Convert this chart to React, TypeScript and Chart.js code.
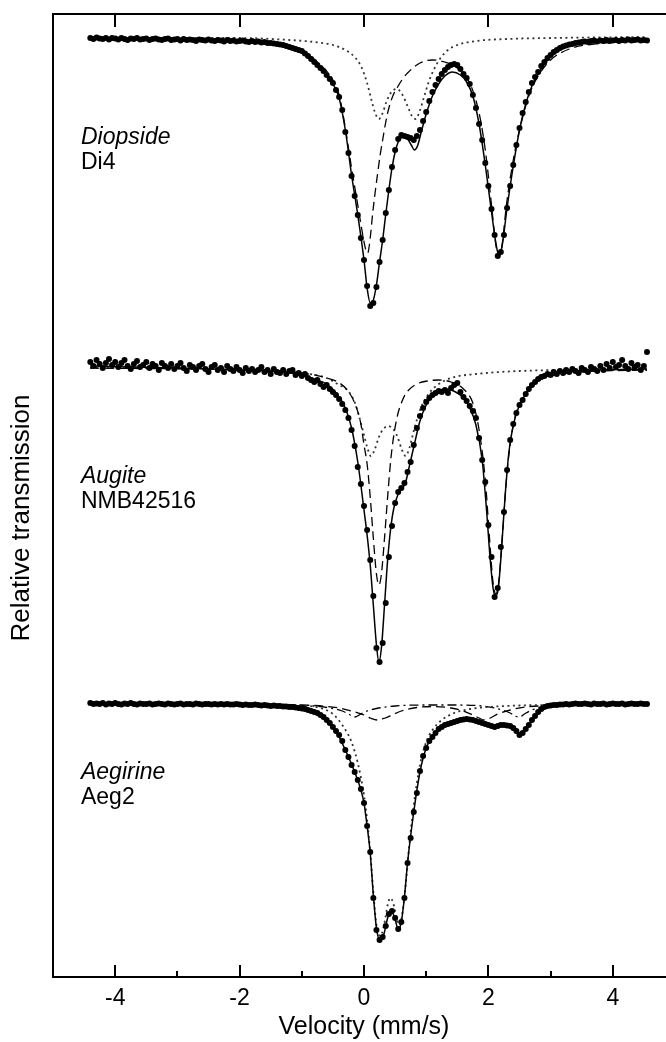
import { useEffect, useRef } from "react";
import { Chart, registerables } from "chart.js";

Chart.register(...registerables);

const FONT = '"Liberation Sans", Arial, Helvetica, sans-serif';

// Velocity channels (mm/s)
const VELOCITY = [
  -4.40, -4.35, -4.30, -4.25, -4.20, -4.15, -4.10, -4.05, -4.00, -3.95,
  -3.90, -3.85, -3.80, -3.75, -3.70, -3.65, -3.60, -3.55, -3.50, -3.45,
  -3.40, -3.35, -3.30, -3.25, -3.20, -3.15, -3.10, -3.05, -3.00, -2.95,
  -2.90, -2.85, -2.80, -2.75, -2.70, -2.65, -2.60, -2.55, -2.50, -2.45,
  -2.40, -2.35, -2.30, -2.25, -2.20, -2.15, -2.10, -2.05, -2.00, -1.95,
  -1.90, -1.85, -1.80, -1.75, -1.70, -1.65, -1.60, -1.55, -1.50, -1.45,
  -1.40, -1.35, -1.30, -1.25, -1.20, -1.15, -1.10, -1.05, -1.00, -0.95,
  -0.90, -0.85, -0.80, -0.75, -0.70, -0.65, -0.60, -0.55, -0.50, -0.45,
  -0.40, -0.35, -0.30, -0.25, -0.20, -0.15, -0.10, -0.05, 0.00, 0.05,
  0.10, 0.15, 0.20, 0.25, 0.30, 0.35, 0.40, 0.45, 0.50, 0.55,
  0.60, 0.65, 0.70, 0.75, 0.80, 0.85, 0.90, 0.95, 1.00, 1.05,
  1.10, 1.15, 1.20, 1.25, 1.30, 1.35, 1.40, 1.45, 1.50, 1.55,
  1.60, 1.65, 1.70, 1.75, 1.80, 1.85, 1.90, 1.95, 2.00, 2.05,
  2.10, 2.15, 2.20, 2.25, 2.30, 2.35, 2.40, 2.45, 2.50, 2.55,
  2.60, 2.65, 2.70, 2.75, 2.80, 2.85, 2.90, 2.95, 3.00, 3.05,
  3.10, 3.15, 3.20, 3.25, 3.30, 3.35, 3.40, 3.45, 3.50, 3.55,
  3.60, 3.65, 3.70, 3.75, 3.80, 3.85, 3.90, 3.95, 4.00, 4.05,
  4.10, 4.15, 4.20, 4.25, 4.30, 4.35, 4.40, 4.45, 4.50, 4.55,
];

// Measured spectra (offset relative transmission, arbitrary units)
const DIOPSIDE_DATA = [
  96.2, 96.1, 96.25, 96.15, 96.1, 96.2, 96.05, 96.2, 96.15, 96.05,
  96.2, 96.1, 96.0, 96.15, 96.1, 96.2, 96.05, 96.1, 96.15, 96.0,
  96.1, 96.15, 96.05, 96.0, 96.1, 96.15, 96.0, 96.05, 96.1, 95.95,
  96.1, 96.0, 96.05, 96.0, 95.9, 96.05, 96.0, 95.95, 96.05, 95.95,
  95.9, 96.0, 95.95, 95.85, 96.0, 95.9, 95.95, 95.85, 95.9, 95.95,
  95.85, 95.8, 95.9, 95.8, 95.85, 95.75, 95.8, 95.7, 95.7, 95.65,
  95.6, 95.55, 95.5, 95.4, 95.3, 95.2, 95.1, 95.0, 94.9, 94.65,
  94.4, 94.1, 93.8, 93.5, 93.2, 92.9, 92.5, 92.1, 91.7, 91.0,
  90.3, 89.0, 86.8, 84.7, 82.4, 80.4, 78.5, 76.2, 74.0, 71.4,
  69.4, 69.7, 71.3, 73.8, 76.0, 78.7, 81.0, 83.3, 85.0, 86.1,
  86.5, 86.4, 86.3, 86.2, 86.0, 86.4, 87.0, 87.9, 88.8, 89.9,
  90.8, 91.5, 92.1, 92.6, 93.0, 93.3, 93.5, 93.6, 93.5, 93.1,
  92.6, 92.2, 91.6, 90.5, 89.2, 87.6, 86.0, 83.7, 81.4, 79.1,
  76.5, 74.4, 74.8, 76.5, 79.2, 81.4, 83.5, 85.5, 87.2, 88.7,
  89.8, 90.8, 91.7, 92.3, 92.8, 93.4, 93.8, 94.2, 94.5, 94.8,
  95.0, 95.2, 95.35, 95.45, 95.55, 95.6, 95.7, 95.75, 95.8, 95.85,
  95.8, 95.9, 95.95, 95.85, 95.95, 95.9, 96.0, 95.9, 95.95, 96.0,
  95.9, 96.0, 95.95, 96.05, 95.95, 96.0, 96.05, 95.95, 96.0, 95.95,
];

const AUGITE_DATA = [
  63.8, 63.4, 64.0, 63.6, 63.2, 63.7, 64.1, 63.5, 63.8, 63.3,
  63.7, 64.0, 63.4, 63.1, 63.6, 63.9, 63.3, 63.5, 63.8, 63.2,
  63.6, 63.4, 63.0, 63.7, 63.4, 63.2, 63.6, 63.1, 63.4, 63.7,
  63.2, 62.9, 63.5, 63.3, 63.0, 63.4, 63.6, 63.1, 62.8, 63.3,
  63.5, 63.0, 63.2, 62.8, 63.4, 63.1, 62.9, 63.3, 63.0, 62.7,
  63.2, 62.9, 63.1, 62.8, 63.0, 63.3, 62.8, 63.0, 62.6, 63.1,
  62.8, 62.7, 63.0, 62.6, 62.9, 63.0, 62.5, 62.7, 62.4, 62.6,
  62.2, 62.0, 61.8, 62.0, 61.6, 61.3, 61.5, 61.1, 60.8, 60.5,
  60.1, 59.6, 59.0, 58.2, 57.0, 55.4, 53.3, 51.6, 49.4, 47.0,
  44.0, 40.4, 35.2, 33.8, 35.7, 39.7, 44.3, 47.4, 49.7, 50.8,
  51.2, 51.7, 52.8, 53.8, 55.5, 57.2, 58.4, 59.2, 59.8, 60.2,
  60.5, 60.7, 60.9, 60.8, 61.0, 60.7, 61.2, 61.5, 61.7, 60.8,
  60.3, 59.9, 59.4, 58.9, 58.2, 56.2, 54.0, 51.8, 47.5, 44.3,
  40.3, 41.2, 45.3, 48.8, 53.0, 56.0, 57.6, 58.7, 59.5, 60.0,
  60.6, 61.1, 61.5, 61.8, 62.1, 62.3, 62.4, 62.6, 62.5, 62.8,
  62.6, 62.9, 62.7, 63.0, 62.8, 63.1, 62.9, 62.7, 63.2, 63.0,
  62.8, 63.3, 63.1, 62.9, 63.4, 63.0, 63.6, 63.2, 63.8, 63.3,
  63.5, 64.0, 63.4, 63.1, 63.7, 63.3, 63.5, 63.0, 63.4, 64.8,
];

const AEGIRINE_DATA = [
  29.7, 29.6, 29.65, 29.6, 29.7, 29.55, 29.65, 29.6, 29.7, 29.6,
  29.55, 29.65, 29.6, 29.7, 29.6, 29.55, 29.65, 29.6, 29.6, 29.65,
  29.55, 29.6, 29.65, 29.6, 29.55, 29.65, 29.6, 29.55, 29.6, 29.65,
  29.55, 29.6, 29.6, 29.55, 29.65, 29.6, 29.55, 29.6, 29.6, 29.55,
  29.6, 29.55, 29.6, 29.55, 29.6, 29.55, 29.55, 29.6, 29.55, 29.5,
  29.55, 29.5, 29.5, 29.55, 29.5, 29.45, 29.5, 29.45, 29.4, 29.45,
  29.4, 29.4, 29.35, 29.35, 29.3, 29.3, 29.25, 29.2, 29.15, 29.1,
  29.0, 28.9, 28.8, 28.7, 28.5, 28.3, 28.0, 27.7, 27.3, 26.9,
  26.5, 25.9, 25.0, 24.3, 23.5, 22.8, 22.0, 21.1, 19.7, 17.4,
  14.8, 10.2, 7.0, 6.0, 6.3, 7.4, 8.6, 8.9, 8.2, 7.1,
  7.8, 10.2, 13.7, 16.2, 18.8, 20.7, 22.9, 24.4, 25.2, 25.9,
  26.3, 26.7, 27.1, 27.3, 27.5, 27.6, 27.7, 27.8, 27.9, 28.0,
  28.05, 28.1, 28.05, 28.0, 27.9, 27.8, 27.7, 27.6, 27.5, 27.4,
  27.3, 27.4, 27.5, 27.5, 27.45, 27.4, 27.2, 26.9, 26.5, 26.7,
  27.1, 27.5, 28.0, 28.4, 28.8, 29.1, 29.3, 29.4, 29.45, 29.5,
  29.5, 29.55, 29.55, 29.6, 29.55, 29.6, 29.65, 29.6, 29.6, 29.65,
  29.6, 29.55, 29.65, 29.6, 29.6, 29.65, 29.55, 29.6, 29.65, 29.6,
  29.6, 29.65, 29.55, 29.6, 29.65, 29.6, 29.6, 29.65, 29.6, 29.6,
];

// Fitted curves: [velocity, value]
const DIOPSIDE_FIT = [
  [-4.4, 96.1], [-3, 96.05], [-2, 95.9], [-1.5, 95.7], [-1.2, 95.4], [-1.0, 95.0],
  [-0.8, 94.0], [-0.6, 92.5], [-0.5, 91.6], [-0.4, 90.2], [-0.3, 87.0], [-0.2, 82.5],
  [-0.1, 78.5], [0.0, 74.0], [0.05, 71.2], [0.1, 69.7], [0.15, 70.0], [0.2, 71.5],
  [0.25, 73.8], [0.3, 76.0], [0.35, 78.6], [0.4, 81.0], [0.45, 83.2], [0.5, 84.8],
  [0.55, 85.8], [0.6, 86.2], [0.65, 86.3], [0.7, 86.1], [0.76, 85.5], [0.81, 85.0],
  [0.86, 85.4], [0.92, 86.8], [1.0, 88.6], [1.1, 90.4], [1.2, 91.6], [1.3, 92.4],
  [1.42, 92.8], [1.55, 92.5], [1.65, 91.8], [1.75, 90.4], [1.85, 87.6], [1.95, 83.5],
  [2.05, 78.8], [2.12, 75.7], [2.17, 74.4], [2.22, 75.4], [2.3, 79.2], [2.4, 83.4],
  [2.5, 87.0], [2.6, 89.6], [2.7, 91.4], [2.8, 92.6], [2.9, 93.6], [3.0, 94.3],
  [3.15, 95.0], [3.3, 95.4], [3.5, 95.7], [4.0, 95.9], [4.55, 96.0],
];
const DIOPSIDE_SITE_A = [
  [-4.4, 96.1], [-2.5, 96.0], [-1.5, 95.7], [-1.0, 95.0], [-0.75, 93.8], [-0.5, 92.0],
  [-0.4, 90.5], [-0.3, 87.2], [-0.2, 83.2], [-0.1, 79.5], [-0.02, 76.5], [0.03, 75.0],
  [0.06, 74.7], [0.1, 76.2], [0.14, 78.7], [0.18, 80.8], [0.22, 82.7], [0.26, 84.5],
  [0.3, 86.0], [0.35, 87.8], [0.4, 89.2], [0.47, 90.5], [0.54, 91.3], [0.62, 92.1],
  [0.7, 92.7], [0.9, 93.7], [1.1, 94.0], [1.3, 93.8], [1.5, 93.2], [1.7, 91.7],
  [1.85, 88.7], [1.95, 85.0], [2.05, 79.5], [2.12, 75.5], [2.17, 74.3], [2.22, 75.5],
  [2.29, 79.5], [2.4, 84.0], [2.5, 87.0], [2.65, 90.4], [2.8, 92.4], [3.0, 94.0],
  [3.3, 95.1], [3.7, 95.6], [4.2, 95.8], [4.55, 95.9],
];
const DIOPSIDE_SITE_B = [
  [-4.4, 96.2], [-2, 96.2], [-1.2, 96.0], [-0.8, 95.8], [-0.5, 95.5], [-0.3, 95.0],
  [-0.15, 94.3], [-0.05, 93.4], [0.05, 91.7], [0.12, 90.0], [0.18, 88.7], [0.24, 88.1],
  [0.3, 88.7], [0.36, 89.8], [0.44, 90.8], [0.53, 91.1], [0.62, 90.5], [0.7, 89.4],
  [0.77, 88.4], [0.83, 88.1], [0.89, 88.8], [0.96, 90.2], [1.04, 91.8], [1.12, 93.0],
  [1.22, 94.1], [1.35, 95.0], [1.5, 95.5], [1.8, 95.9], [2.3, 96.1], [3, 96.2],
  [4.55, 96.3],
];

const AUGITE_FIT = [
  [-4.4, 63.4], [-3, 63.2], [-2, 63.0], [-1.5, 62.9], [-1.0, 62.5], [-0.8, 62.1],
  [-0.6, 61.6], [-0.45, 60.7], [-0.3, 59.2], [-0.2, 57.2], [-0.1, 53.8], [-0.05, 51.5],
  [0.0, 49.0], [0.05, 46.5], [0.1, 43.5], [0.15, 39.5], [0.2, 35.5], [0.24, 33.8],
  [0.28, 35.2], [0.33, 39.5], [0.38, 44.0], [0.43, 47.2], [0.48, 49.2], [0.55, 50.6],
  [0.62, 51.2], [0.67, 51.8], [0.73, 53.4], [0.8, 55.3], [0.9, 57.9], [1.0, 59.5],
  [1.1, 60.4], [1.2, 60.9], [1.3, 61.1], [1.4, 61.0], [1.5, 60.7], [1.6, 60.2],
  [1.7, 59.2], [1.8, 57.5], [1.9, 54.0], [1.97, 49.0], [2.03, 44.0], [2.08, 41.0],
  [2.12, 40.4], [2.16, 41.2], [2.21, 45.0], [2.27, 50.5], [2.33, 54.8], [2.4, 57.5],
  [2.5, 59.5], [2.6, 60.6], [2.7, 61.4], [2.8, 62.0], [3.0, 62.5], [3.3, 62.8],
  [3.8, 63.0], [4.55, 63.1],
];
const AUGITE_SITE_A = [
  [-4.4, 63.2], [-2.0, 63.0], [-1.0, 62.7], [-0.6, 62.2], [-0.42, 61.8], [-0.27, 61.0],
  [-0.15, 59.7], [-0.05, 57.6], [0.0, 55.5], [0.05, 53.6], [0.1, 50.3], [0.15, 46.2],
  [0.2, 42.6], [0.24, 41.5], [0.28, 42.6], [0.33, 46.2], [0.38, 50.3], [0.43, 54.0],
  [0.48, 56.5], [0.54, 58.5], [0.62, 60.0], [0.69, 60.8], [0.85, 61.6], [1.02, 61.9],
  [1.2, 62.0], [1.4, 61.8], [1.6, 61.1], [1.75, 59.7], [1.85, 57.0], [1.95, 52.0],
  [2.02, 46.0], [2.07, 42.0], [2.12, 40.6], [2.17, 42.0], [2.22, 46.0], [2.3, 52.8],
  [2.4, 57.5], [2.5, 59.6], [2.65, 61.0], [2.8, 61.9], [3.0, 62.4], [3.3, 62.7],
  [3.8, 62.9], [4.55, 63.0],
];
const AUGITE_SITE_B = [
  [-4.4, 63.2], [-2.0, 63.1], [-1.0, 62.7], [-0.6, 62.2], [-0.4, 61.5], [-0.27, 61.0],
  [-0.15, 59.8], [-0.05, 57.7], [0.0, 56.5], [0.05, 55.3], [0.11, 54.4], [0.17, 55.0],
  [0.24, 56.3], [0.3, 57.0], [0.39, 57.4], [0.48, 57.0], [0.54, 56.3], [0.61, 55.0],
  [0.67, 54.4], [0.73, 55.2], [0.78, 56.4], [0.83, 57.6], [0.92, 59.3], [1.05, 60.7],
  [1.18, 61.5], [1.4, 62.2], [1.8, 62.6], [2.5, 62.9], [3.5, 63.0], [4.55, 63.0],
];

const AEGIRINE_FIT = [
  [-4.4, 29.6], [-2, 29.55], [-1.5, 29.4], [-1.2, 29.3], [-1.0, 29.15], [-0.8, 28.8],
  [-0.6, 28.0], [-0.45, 26.9], [-0.3, 25.0], [-0.15, 22.8], [-0.05, 21.0], [0.0, 19.7],
  [0.05, 17.4], [0.1, 14.7], [0.15, 10.5], [0.2, 7.2], [0.26, 5.9], [0.32, 6.6],
  [0.38, 8.2], [0.43, 8.9], [0.49, 8.3], [0.55, 7.1], [0.6, 7.8], [0.65, 10.3],
  [0.7, 13.7], [0.8, 18.8], [0.9, 22.8], [1.0, 25.2], [1.1, 26.3], [1.25, 27.3],
  [1.45, 27.8], [1.65, 28.1], [1.85, 27.8], [2.05, 27.4], [2.15, 27.35], [2.3, 27.45],
  [2.42, 27.1], [2.5, 26.5], [2.58, 26.9], [2.7, 28.0], [2.8, 28.8], [2.9, 29.3],
  [3.05, 29.5], [3.5, 29.6], [4.55, 29.6],
];
const AEGIRINE_SITE_A = [
  [-4.4, 29.6], [-1.5, 29.55], [-1.0, 29.45], [-0.7, 29.2], [-0.5, 28.6], [-0.35, 27.5],
  [-0.2, 25.8], [-0.1, 23.7], [0.0, 20.5], [0.05, 18.0], [0.1, 14.8], [0.15, 10.8],
  [0.2, 7.5], [0.26, 6.4], [0.32, 7.4], [0.38, 9.5], [0.42, 10.2], [0.47, 9.7],
  [0.53, 8.0], [0.57, 7.5], [0.62, 8.8], [0.67, 11.5], [0.72, 15.0], [0.8, 19.5],
  [0.9, 23.5], [1.0, 25.8], [1.1, 27.0], [1.25, 28.0], [1.45, 28.7], [1.7, 29.1],
  [2.0, 29.3], [2.5, 29.45], [3.0, 29.5], [4.55, 29.6],
];
const AEGIRINE_SITE_B = [
  [-4.4, 29.6], [-1.5, 29.55], [-0.8, 29.45], [-0.4, 29.2], [-0.2, 28.9], [0.0, 28.5],
  [0.1, 28.2], [0.22, 28.0], [0.34, 28.2], [0.45, 28.5], [0.6, 28.9], [0.8, 29.2],
  [1.1, 29.35], [1.4, 29.2], [1.6, 28.9], [1.75, 28.5], [1.85, 28.2], [1.93, 28.0],
  [2.03, 28.2], [2.15, 28.6], [2.35, 29.0], [2.6, 29.3], [3.0, 29.45], [3.5, 29.55],
  [4.55, 29.6],
];
const AEGIRINE_SITE_C = [
  [-4.4, 29.6], [-1.5, 29.55], [-0.8, 29.4], [-0.5, 29.15], [-0.35, 28.9], [-0.25, 28.6],
  [-0.15, 28.3], [-0.05, 28.6], [0.05, 28.9], [0.2, 29.15], [0.5, 29.4], [1.0, 29.5],
  [1.5, 29.5], [1.9, 29.4], [2.1, 29.2], [2.25, 28.95], [2.35, 28.7], [2.45, 28.35],
  [2.5, 28.3], [2.58, 28.6], [2.68, 28.95], [2.8, 29.2], [3.1, 29.45], [3.6, 29.55],
  [4.55, 29.6],
];

const MAJOR_TICKS = [-4, -2, 0, 2, 4];
const MINOR_TICKS = [-3, -1, 1, 3];

const SAMPLE_LABELS = [
  { text: "Diopside", italic: true, y: 86.2 },
  { text: "Di4", italic: false, y: 83.7 },
  { text: "Augite", italic: true, y: 52.3 },
  { text: "NMB42516", italic: false, y: 49.8 },
  { text: "Aegirine", italic: true, y: 22.7 },
  { text: "Aeg2", italic: false, y: 20.2 },
];
const LABEL_VELOCITY = -4.55;
const Y_TITLE = "Relative transmission";
const Y_TITLE_VALUE = 48.2;

const toPoints = (vals: number[]) => VELOCITY.map((v, i) => ({ x: v, y: vals[i] }));
const toCurve = (pairs: number[][]) => pairs.map(([x, y]) => ({ x, y }));

const pointSet = (vals: number[]) => ({
  data: toPoints(vals),
  showLine: false,
  pointRadius: 3,
  pointHoverRadius: 3,
  pointBackgroundColor: "#000",
  pointBorderWidth: 0,
  borderColor: "#000",
});

const lineSet = (pairs: number[][], style: "solid" | "dot" | "dash" | "dashdot") => ({
  data: toCurve(pairs),
  showLine: true,
  pointRadius: 0,
  borderColor: style === "dot" ? "#333" : "#000",
  borderWidth: style === "dot" ? 1.8 : style === "solid" ? 1.5 : 1.3,
  borderDash:
    style === "dot" ? [2, 3.5] : style === "dash" ? [9, 5] : style === "dashdot" ? [9, 4, 2, 4] : [],
  cubicInterpolationMode: "monotone" as const,
  fill: false,
});

export default function App() {
  const ref = useRef<HTMLCanvasElement | null>(null);

  useEffect(() => {
    if (!ref.current) return;

    const decor = {
      id: "decor",
      afterDraw(chart: any) {
        const { ctx, chartArea, scales } = chart;
        const xs = scales.x;
        const ys = scales.y;
        ctx.save();
        ctx.strokeStyle = "#000";
        ctx.lineWidth = 2;
        ctx.beginPath();
        ctx.moveTo(chartArea.left - 1, chartArea.top);
        ctx.lineTo(chartArea.right, chartArea.top);
        ctx.stroke();
        MAJOR_TICKS.forEach((v) => {
          const x = Math.round(xs.getPixelForValue(v));
          ctx.beginPath();
          ctx.moveTo(x, chartArea.bottom);
          ctx.lineTo(x, chartArea.bottom - 12);
          ctx.moveTo(x, chartArea.top);
          ctx.lineTo(x, chartArea.top + 13);
          ctx.stroke();
        });
        MINOR_TICKS.forEach((v) => {
          const x = Math.round(xs.getPixelForValue(v));
          ctx.beginPath();
          ctx.moveTo(x, chartArea.bottom);
          ctx.lineTo(x, chartArea.bottom - 6);
          ctx.stroke();
        });
        ctx.fillStyle = "#000";
        ctx.textAlign = "left";
        ctx.textBaseline = "middle";
        SAMPLE_LABELS.forEach((l) => {
          ctx.font = `${l.italic ? "italic " : ""}23px ${FONT}`;
          ctx.fillText(l.text, xs.getPixelForValue(LABEL_VELOCITY), ys.getPixelForValue(l.y));
        });
        ctx.translate(22, ys.getPixelForValue(Y_TITLE_VALUE));
        ctx.rotate(-Math.PI / 2);
        ctx.textAlign = "center";
        ctx.font = `26px ${FONT}`;
        ctx.fillText(Y_TITLE, 0, 0);
        ctx.restore();
      },
    };

    const chart = new Chart(ref.current, {
      type: "scatter",
      data: {
        datasets: [
          pointSet(DIOPSIDE_DATA),
          pointSet(AUGITE_DATA),
          pointSet(AEGIRINE_DATA),
          lineSet(DIOPSIDE_FIT, "solid"),
          lineSet(DIOPSIDE_SITE_A, "dash"),
          lineSet(DIOPSIDE_SITE_B, "dot"),
          lineSet(AUGITE_FIT, "solid"),
          lineSet(AUGITE_SITE_A, "dash"),
          lineSet(AUGITE_SITE_B, "dot"),
          lineSet(AEGIRINE_FIT, "solid"),
          lineSet(AEGIRINE_SITE_A, "dot"),
          lineSet(AEGIRINE_SITE_B, "dash"),
          lineSet(AEGIRINE_SITE_C, "dashdot"),
        ] as any,
      },
      options: {
        responsive: false,
        animation: false,
        devicePixelRatio: 1,
        layout: { padding: { top: 14, right: 5, left: 0, bottom: 0 } },
        plugins: { legend: { display: false }, tooltip: { enabled: false } },
        events: [],
        scales: {
          x: {
            type: "linear",
            position: "bottom",
            min: -5,
            max: 5,
            afterBuildTicks: (s: any) => {
              s.ticks = MAJOR_TICKS.map((v) => ({ value: v }));
            },
            ticks: {
              autoSkip: false,
              maxRotation: 0,
              padding: 8,
              color: "#000",
              font: { family: FONT, size: 23 },
              callback: (v: any) => String(v),
            },
            grid: { display: true, drawOnChartArea: false, drawTicks: false },
            border: { display: true, color: "#000", width: 2 },
            title: {
              display: true,
              text: "Velocity (mm/s)",
              color: "#000",
              font: { family: FONT, size: 25 },
              padding: { top: 0, bottom: 0 },
            },
            afterFit: (s: any) => {
              s.height = 65;
            },
          },
          y: {
            type: "linear",
            min: 2.3,
            max: 98.6,
            ticks: { display: false },
            grid: { display: true, drawOnChartArea: false, drawTicks: false },
            border: { display: true, color: "#000", width: 2 },
            afterFit: (s: any) => {
              s.width = 53;
            },
          },
        },
      } as any,
      plugins: [decor],
    });

    return () => chart.destroy();
  }, []);

  return (
    <div
      style={{
        position: "absolute",
        left: 0,
        top: 0,
        width: 666,
        height: 1042,
        overflow: "hidden",
        background: "#fff",
      }}
    >
      <canvas ref={ref} width={680} height={1042} style={{ display: "block" }} />
    </div>
  );
}
